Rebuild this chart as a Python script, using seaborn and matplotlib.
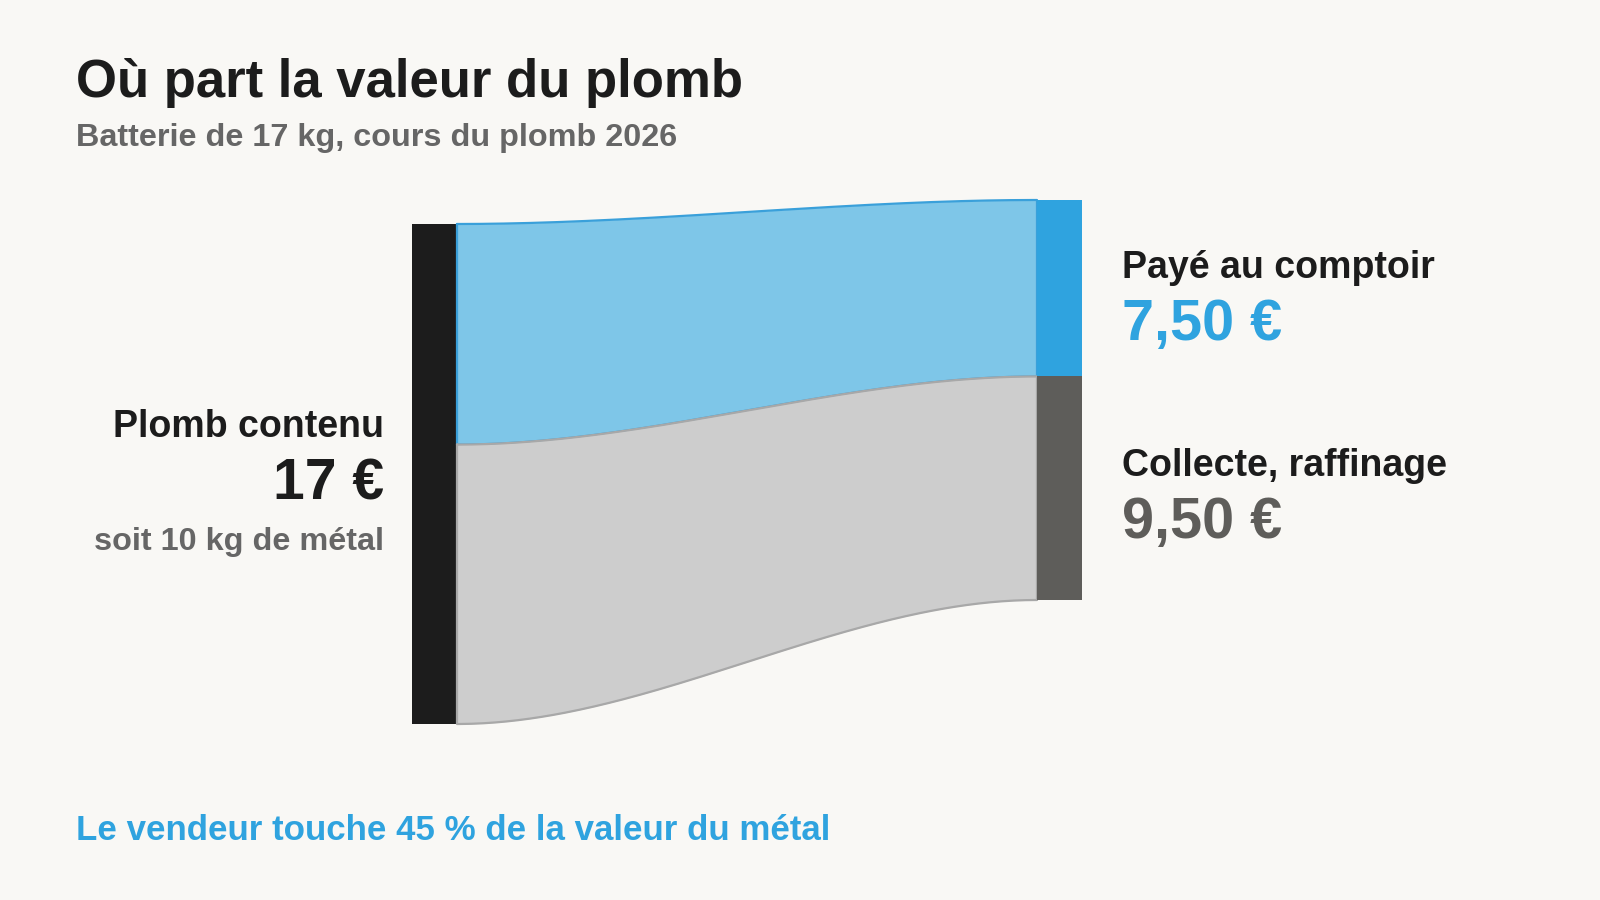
import numpy as np
import pandas as pd
import seaborn as sns
import matplotlib.pyplot as plt

# data
source_label = "Plomb contenu"
source_value = 17.0
source_value_text = "17 €"
source_note = "soit 10 kg de métal"
target_labels = ["Payé au comptoir", "Collecte, raffinage"]
target_values = [7.5, 9.5]
target_value_texts = ["7,50 €", "9,50 €"]

title = "Où part la valeur du plomb"
subtitle = "Batterie de 17 kg, cours du plomb 2026"
footer = "Le vendeur touche 45 % de la valeur du métal"

# colours
bg = "#F9F8F5"
node_colors = ["#2FA3DF", "#5E5D5A"]
flow_fills = ["#7EC6E8", "#CDCDCD"]
flow_edges = ["#3AA0DA", "#A8A8A8"]
value_colors = ["#2FA3DF", "#5E5D5A"]

sns.set_theme(style="white")
plt.rcParams["font.family"] = ["Liberation Sans", "DejaVu Sans"]

fig = plt.figure(figsize=(16, 9), dpi=100, facecolor=bg)
ax = fig.add_axes([0, 0, 1, 1])
ax.set_facecolor(bg)

# layout (pixel space)
left_x0, left_x1 = 412, 457
right_x0, right_x1 = 1037, 1082
left_top, left_height = 224, 500
right_top, right_height = 200, 400
left_scale = left_height / source_value
right_scale = right_height / sum(target_values)

# left node
ax.fill_between([left_x0, left_x1], left_top, left_top + source_value * left_scale,
                color="#1C1C1C", lw=0)

t = np.linspace(0, 1, 200)
s = 3 * t ** 2 - 2 * t ** 3
xs = left_x1 + (right_x0 - left_x1) * t

ly = left_top
ry = right_top
for i, v in enumerate(target_values):
    lh = v * left_scale
    rh = v * right_scale
    top = ly + (ry - ly) * s
    bot = (ly + lh) + ((ry + rh) - (ly + lh)) * s
    ax.fill_between(xs, top, bot, color=flow_fills[i], lw=0, zorder=2 + i)
    edge = pd.DataFrame({
        "x": np.concatenate([xs, [right_x0, right_x0], xs[::-1], [left_x1, left_x1]]),
        "y": np.concatenate([top, [top[-1], bot[-1]], bot[::-1], [bot[0], top[0]]]),
    })
    sns.lineplot(data=edge, x="x", y="y", sort=False, estimator=None, ax=ax,
                 color=flow_edges[i], lw=1.6, zorder=2 + i)
    # right node
    ax.fill_between([right_x0, right_x1], ry, ry + rh, color=node_colors[i], lw=0, zorder=5)
    ly += lh
    ry += rh

ax.set_xlim(0, 1600)
ax.set_ylim(900, 0)
ax.axis("off")

# titles
ax.text(76, 97, title, fontsize=38, fontweight="bold", color="#1C1C1C", va="baseline")
ax.text(76, 146, subtitle, fontsize=23.3, fontweight="bold", color="#666666", va="baseline")

# left labels
ax.text(384, 437, source_label, fontsize=27, fontweight="bold", color="#1C1C1C",
        ha="right", va="baseline")
ax.text(384, 500, source_value_text, fontsize=41, fontweight="bold", color="#1C1C1C",
        ha="right", va="baseline")
ax.text(384, 550, source_note, fontsize=23.3, fontweight="bold", color="#666666",
        ha="right", va="baseline")

# right labels
label_y = [278, 476]
value_y = [340, 538]
for i in range(len(target_labels)):
    ax.text(1122, label_y[i], target_labels[i], fontsize=27, fontweight="bold",
            color="#1C1C1C", va="baseline")
    ax.text(1122, value_y[i], target_value_texts[i], fontsize=41.5, fontweight="bold",
            color=value_colors[i], va="baseline")

ax.text(76, 840, footer, fontsize=25.1, fontweight="bold", color="#2FA3DF", va="baseline")

fig.savefig("out.png", dpi=100, facecolor=bg)
